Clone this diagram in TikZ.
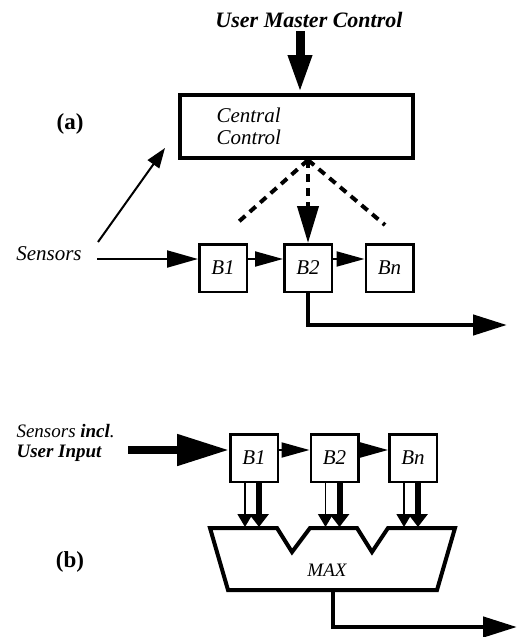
\documentclass[tikz,border=0pt]{standalone}
\usepackage{fontspec}
\setmainfont{Liberation Serif}
\usepackage{tikz}
\usetikzlibrary{arrows.meta,positioning,calc}

\begin{document}
\begin{tikzpicture}[x=1pt,y=-1pt,
    lbl/.style={font=\fontsize{21}{22}\selectfont\itshape},
    blk/.style={draw,line width=2.5pt,minimum size=47.5pt,inner sep=0pt,lbl},
    tag/.style={font=\fontsize{23}{24}\selectfont\bfseries},
    link/.style={line width=2pt,-{Triangle[length=28pt,width=15pt]}},
    feed/.style={line width=4.5pt,-{Triangle[length=34pt,width=20pt]}},
    dotline/.style={line width=4pt,dash pattern=on 8pt off 6pt}]
    \useasboundingbox (0,0) rectangle (519,637);

    % (a) central control
    \node[tag] (ta) at (70,124) {(a)};
    \node[font=\fontsize{22}{24}\selectfont\bfseries\itshape] (umc) at (309,20) {User Master Control};
    \node[draw,line width=4pt,minimum width=233pt,minimum height=63pt,
          text width=160pt,inner xsep=36.5pt,align=left,lbl] (cc) at (296.5,126.5) {Central\\Control};
    \draw[line width=9pt,-{Triangle[length=38pt,width=22pt]}] (umc.south -| 300,0) -- (cc.north -| 300,0);

    % behaviours
    \node[blk] (a1) at (223,268) {B1};
    \node[blk] (a2) at (308,268) {B2};
    \node[blk] (an) at (389.5,268) {Bn};

    % sensors
    \node[lbl] (sa) at (49,254) {Sensors};
    \coordinate (s1) at (97,259);
    \coordinate (sn) at (98,242);
    \coordinate (sc) at (165,148);
    \draw[line width=2pt,-{Triangle[length=20pt,width=14pt]}] (sn) -- (sc);
    \draw[line width=2pt,-{Triangle[length=31pt,width=17pt]}] (s1) -- (s1 -| a1.west);
    \draw[link] (a1.east |- s1) -- (a2.west |- s1);
    \draw[link] (a2.east |- s1) -- (an.west |- s1);

    % selection
    \coordinate (hub) at (cc.south -| a2);
    \coordinate (dl) at (235,225);
    \coordinate (dr) at (385,225);
    \draw[dotline] (hub) -- (dl);
    \draw[dotline] (hub) -- (dr);
    \draw[dotline,-{Triangle[length=37pt,width=21pt]}] (hub) -- (a2.north);

    % output
    \coordinate (outa) at (507,325);
    \draw[feed] (a2.south) |- (outa);

    % (b) max
    \node[tag] (tb) at (70,562) {(b)};
    \node[align=left,anchor=west,font=\fontsize{19}{20}\selectfont\itshape] (sb) at (13,443)
        {Sensors \textbf{incl}.\\\textbf{User Input}};
    \node[blk] (b1) at (254,458) {B1};
    \node[blk] (b2) at (334.5,458) {B2};
    \node[blk] (bn) at (413,458) {Bn};

    \coordinate (s2) at (128,450);
    \draw[line width=8pt,-{Triangle[length=52pt,width=30pt]}] (s2) -- (s2 -| b1.west);
    \draw[link] (b1.east |- s2) -- (b2.west |- s2);
    \draw[link] (b2.east |- s2) -- (bn.west |- s2);

    % MAX unit
    \draw[line width=4pt,line join=miter] (210,528) -- (277,528) -- (292,552) -- (310,528)
        -- (357,528) -- (372,552) -- (388,528) -- (455,528) -- (437,590) -- (228,590) -- cycle;
    \node[font=\fontsize{19}{20}\selectfont\itshape] (mx) at (327,570) {MAX};
    \coordinate (maxtop) at (0,527);
    \foreach \b in {b1,b2,bn} {
        \draw[line width=1.5pt,-{Triangle[length=13pt,width=15pt]}]
            ($(\b.south)+(-9,0)$) -- ($(\b.south |- maxtop)+(-9,0)$);
        \draw[line width=6pt,-{Triangle[length=13pt,width=19pt]}]
            ($(\b.south)+(5,0)$) -- ($(\b.south |- maxtop)+(5,0)$);
    }
    \coordinate (maxbot) at (333,590);
    \coordinate (outb) at (517,627);
    \draw[feed] (maxbot) |- (outb);
\end{tikzpicture}
\end{document}
